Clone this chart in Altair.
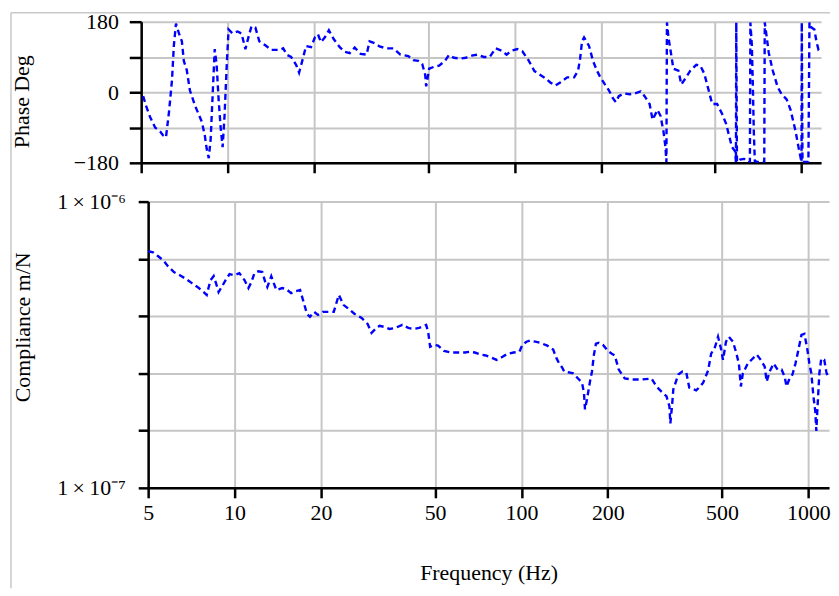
import altair as alt
import pandas as pd

# ---------------- data ----------------
# Phase (degrees) versus frequency (Hz)
phase_freq = [5.08, 5.20, 5.37, 5.59, 5.82, 5.96, 6.10, 6.25, 6.40, 6.50, 6.61, 6.77, 6.93, 7.04, 7.21,
              7.39, 7.69, 8.13, 8.33, 8.46, 8.60, 8.73, 8.88, 9.02, 9.16, 9.31, 9.46, 9.61, 9.76, 9.92,
              10.08, 10.40, 10.83, 11.18, 11.54, 11.82, 12.11, 12.50, 12.90, 13.54, 14.20, 15.13, 15.62,
              16.13, 16.65, 17.33, 17.75, 18.18, 18.77, 19.53, 20.16, 20.65, 21.15, 21.83, 22.54, 23.46,
              24.60, 25.61, 26.65, 27.73, 29.09, 30.51, 31.25, 32.52, 33.83, 35.77, 37.84, 40.02, 42.65,
              44.37, 46.17, 47.67, 48.83, 49.21, 50.40, 52.45, 54.58, 57.25, 59.09, 61.50, 64.52, 67.68,
              71.56, 74.47, 78.10, 81.92, 85.93, 90.16, 93.83, 97.63, 102.4, 106.6, 111.8, 117.3, 123.0,
              128.0, 133.2, 138.7, 144.3, 152.6, 161.3, 166.5, 169.2, 171.9, 174.7, 181.8, 187.7, 193.8,
              198.5, 206.5, 213.2, 220.1, 225.4, 230.9, 240.2, 252.0, 262.3, 275.1, 284.0, 295.6, 302.7,
              315.0, 322.6, 330.4, 335.7, 338.3, 339.7, 343.9, 357.8, 372.4, 381.3, 393.7, 409.7, 429.8,
              443.7, 458.1, 472.9, 488.3, 508.1, 528.7, 545.8, 559.0, 572.5, 586.4, 591.0, 592.5, 595.8,
              610.2, 630.0, 650.4, 661.0, 663.6, 671.4, 676.7, 682.1, 687.6, 709.8, 733.0, 741.7, 744.7,
              756.7, 768.8, 793.7, 826.0, 852.8, 887.5, 916.1, 953.3, 976.3, 1000.0, 1002.4, 1008.0,
              1057.0, 1066.0, 1083.0, 1109.0, 1127.0, 1145.0, 1164.0]
phase_deg = [-10, -35, -63, -90, -100, -110, -115, -50, 30, 120, 175, 150, 130, 80, 56,
             5, -33, -75, -110, -145, -168, -120, 0, 110, 70, -20, -90, -140, -60, 60,
             160, 150, 155, 150, 110, 140, 168, 165, 130, 120, 108, 108, 112,
             95, 90, 70, 50, 78, 118, 115, 140, 148, 128, 140, 158, 135,
             115, 103, 100, 114, 98, 96, 130, 125, 117, 112, 112, 96, 92,
             82, 80, 72, 45, 15, 60, 65, 68, 80, 95, 88, 86, 88,
             94, 96, 90, 90, 112, 106, 96, 106, 110, 104, 82, 54, 44,
             36, 25, 17, 25, 38, 38, 55, 85, 130, 140, 118, 80, 55,
             40, 20, 5, -15, -25, -10, -3, -5, -3, 2, -10, -30, -70,
             -45, -60, -100, -140, -178, 178, 140, 60, 55, 20, 35, 55, 70,
             68, 48, 10, -30, -30, -55, -80, -110, -140, -150, -178, 178, -178,
             -172, -170, -172, -178, 178, 120, 20, -100, -176, -178, -178, -178, 178,
             140, 101, 56, 13, -5, -18, -45, -99, -140, -178, 178, -178,
             -178, 178, 165, 160, 130, 110, 115]

# Compliance (units of 1e-7 m/N) versus frequency (Hz)
comp_freq = [5.00, 5.20, 5.42, 5.64, 5.86, 6.15, 6.45, 6.71, 7.10, 7.51, 7.81, 8.00, 8.13, 8.26, 8.46,
             8.66, 8.80, 9.02, 9.31, 9.61, 10.0, 10.40, 10.83, 11.18, 11.45, 11.73, 12.11, 12.50, 12.80,
             13.01, 13.43, 13.98, 14.66, 15.13, 15.75, 16.39, 16.92, 17.33, 17.89, 18.32, 18.92, 19.53,
             20.32, 21.32, 22.18, 23.09, 24.02, 25.00, 26.22, 27.73, 29.09, 30.03, 30.99, 32.00, 33.31,
             34.66, 36.36, 38.44, 40.33, 41.97, 44.01, 46.54, 47.29, 48.05, 49.61, 51.21, 53.72, 56.80,
             60.06, 63.51, 66.09, 68.77, 72.13, 75.07, 78.73, 81.92, 85.93, 89.42, 93.83, 98.42, 100.8,
             104.1, 107.4, 111.8, 116.3, 123.0, 129.0, 132.2, 135.3, 138.7, 140.9, 146.6, 151.4, 157.5,
             162.6, 165.2, 166.5, 169.2, 173.3, 176.1, 178.9, 181.8, 186.2, 192.2, 200.0, 206.5, 211.5,
             218.3, 229.1, 244.1, 262.3, 284.0, 295.6, 307.6, 320.1, 327.8, 330.4, 335.7, 338.3, 352.1,
             363.6, 375.4, 384.5, 396.9, 406.4, 419.6, 429.8, 447.3, 458.1, 472.9, 484.3, 496.0, 504.0,
             516.2, 528.7, 545.8, 559.0, 572.5, 581.7, 591.0, 615.1, 640.1, 661.0, 682.1, 704.4, 715.5,
             733.0, 756.7, 781.0, 806.4, 826.0, 839.3, 859.6, 880.3, 901.6, 923.4, 945.8, 968.7, 992.0,
             1008.0, 1024.0, 1041.0, 1057.0, 1066.0, 1074.0, 1092.0, 1109.0, 1136.0, 1154.0, 1173.0]
comp_e7 = [6.71, 6.65, 6.44, 6.24, 5.95, 5.67, 5.53, 5.40, 5.19, 4.99, 4.83, 4.72, 5.03, 5.32, 5.49,
           5.11, 4.83, 5.03, 5.32, 5.58, 5.53, 5.62, 5.32, 4.99, 5.23, 5.62, 5.71, 5.67, 5.23,
           5.03, 5.49, 4.91, 4.99, 4.95, 4.79, 4.87, 4.91, 4.53, 4.05, 3.96, 4.12, 4.02,
           4.12, 4.12, 4.12, 4.72, 4.35, 4.22, 4.05, 3.92, 3.74, 3.48, 3.59, 3.68, 3.65,
           3.59, 3.62, 3.71, 3.62, 3.59, 3.62, 3.71, 3.51, 3.11, 3.16, 3.14, 3.01, 2.97,
           2.97, 2.97, 2.99, 2.97, 2.92, 2.90, 2.85, 2.80, 2.87, 2.94, 2.97, 2.99, 3.16,
           3.24, 3.27, 3.24, 3.21, 3.14, 3.04, 2.85, 2.72, 2.63, 2.55, 2.53, 2.51, 2.41,
           2.33, 2.14, 1.88, 2.04, 2.35, 2.55, 2.92, 3.19, 3.21, 3.16, 3.01, 2.94, 2.90,
           2.59, 2.41, 2.39, 2.39, 2.41, 2.26, 2.17, 2.09, 1.93, 1.68, 2.00, 2.21, 2.49,
           2.55, 2.53, 2.24, 2.21, 2.19, 2.26, 2.33, 2.57, 2.94, 3.11, 3.37, 3.06, 2.80,
           3.24, 3.37, 3.24, 2.99, 2.72, 2.26, 2.51, 2.72, 2.83, 2.92, 2.80, 2.65, 2.35,
           2.55, 2.72, 2.59, 2.59, 2.45, 2.26, 2.41, 2.49, 2.72, 3.04, 3.42, 3.45, 3.04,
           2.72, 2.51, 2.09, 1.85, 1.58, 1.85, 2.51, 2.83, 2.80, 2.55, 2.41]

freq_ticks = [5, 10, 20, 50, 100, 200, 500, 1000]
phase_ticks = [-180, -90, 0, 90, 180]
comp_ticks = [1e-7, 1.585e-7, 2.512e-7, 3.981e-7, 6.310e-7, 1e-6]

FONT = "'Liberation Serif', 'Times New Roman', serif"
GRID = "#c6c6c6"
BLUE = "#0000ff"
FRAME = "#c8c8c8"

top_df = pd.DataFrame({"f": phase_freq, "phase": phase_deg, "i": list(range(len(phase_freq)))})
bot_df = pd.DataFrame({"f": comp_freq, "c": [v * 1e-7 for v in comp_e7], "i": list(range(len(comp_freq)))})
one = pd.DataFrame({"k": [0]})

line_style = dict(color=BLUE, strokeWidth=2.4, strokeDash=[6, 4], clip=True)

top_line = alt.Chart(top_df).mark_line(**line_style).encode(
    x=alt.X("f:Q", scale=alt.Scale(type="log", domain=[5, 1170], nice=False),
            axis=alt.Axis(values=freq_ticks, labels=False, title=None, tickSize=10)),
    y=alt.Y("phase:Q", scale=alt.Scale(domain=[-180, 180], nice=False, zero=False),
            axis=alt.Axis(values=phase_ticks,
                          labelExpr="(datum.value == 90 || datum.value == -90) ? '' : datum.label",
                          title="Phase Deg", titleX=-108, titleY=80, tickSize=12, labelPadding=11)),
    order="i:Q",
)

frame_h = alt.Chart(one).mark_rule(color=FRAME, strokeWidth=1.5).encode(
    x=alt.value(-131), x2=alt.value(693), y=alt.value(-9))
frame_v = alt.Chart(one).mark_rule(color=FRAME, strokeWidth=1.5).encode(
    x=alt.value(-131), y=alt.value(-9), y2=alt.value(570))

top_chart = alt.layer(top_line, frame_h, frame_v).properties(width=684, height=142)

bot_chart = alt.Chart(bot_df).mark_line(**line_style).encode(
    x=alt.X("f:Q", scale=alt.Scale(type="log", domain=[5, 1180], nice=False),
            axis=alt.Axis(values=freq_ticks, format="d", title="Frequency (Hz)", labelFlush=False,
                          labelOverlap=False, tickSize=10, labelPadding=5, titleY=75)),
    y=alt.Y("c:Q", scale=alt.Scale(type="log", domain=[1e-7, 1e-6], nice=False),
            axis=alt.Axis(values=comp_ticks,
                          labelExpr="datum.value > 9e-7 ? '1\u2009\u00d7\u200910\u207b\u2076' : (datum.value < 1.1e-7 ? '1\u2009\u00d7\u200910\u207b\u2077' : '')",
                          title="Compliance m/N", titleX=-114, titleY=126, tickSize=10, labelPadding=13)),
    order="i:Q",
).properties(width=685, height=288)

spacer = alt.Chart(one).mark_point(opacity=0).properties(width=7, height=1)
bottom_row = alt.hconcat(spacer, bot_chart, spacing=0, bounds="flush")

chart = alt.vconcat(top_chart, bottom_row, spacing=39, bounds="flush").resolve_scale(
    x="independent", y="independent"
).properties(
    padding={"left": 2, "top": 1, "right": 0, "bottom": 0}
).configure_view(stroke=None).configure_axis(
    domainColor="black", domainWidth=2.5, tickColor="black", tickWidth=2.5,
    gridColor=GRID, gridWidth=2, labelFont=FONT, labelFontSize=22, labelColor="black",
    titleFont=FONT, titleFontSize=22, titleFontWeight="normal", titleColor="black",
    labelOverlap=False,
)

chart.save("out.html", embed_options={"renderer": "svg", "actions": False})
